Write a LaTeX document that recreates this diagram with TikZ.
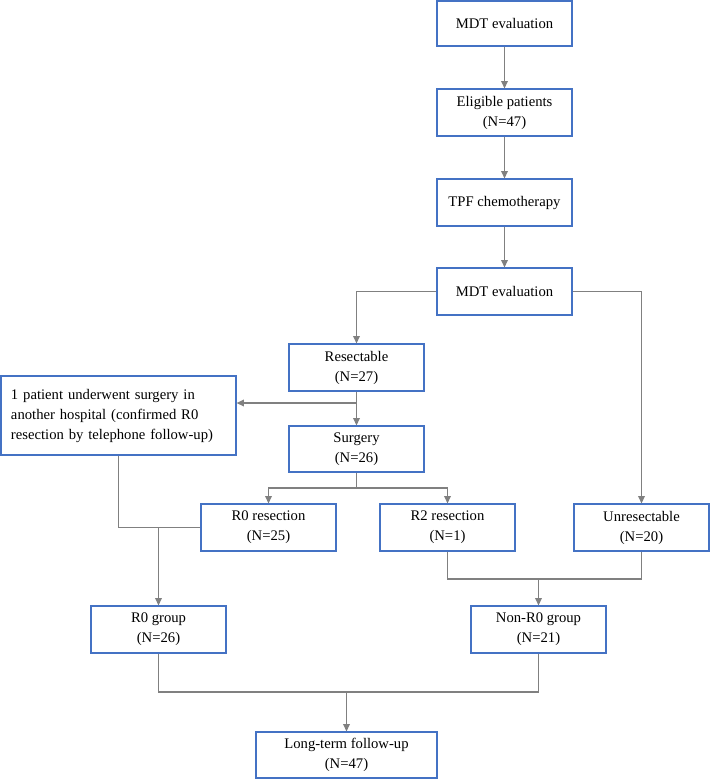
\documentclass[tikz,border=0pt]{standalone}
\usepackage{fontspec}
\setmainfont{Liberation Serif}
\usetikzlibrary{arrows.meta}
\definecolor{boxblue}{RGB}{68,114,196}
\definecolor{linegray}{RGB}{128,128,128}
\tikzset{
  box/.style={draw=boxblue, line width=0.9pt, fill=white, align=center,
    minimum width=101.25pt, minimum height=35.25pt, inner sep=2pt,
    font=\fontsize{11}{15}\selectfont},
  conn/.style={draw=linegray, line width=1.1pt},
  arr/.style={conn, -{Triangle[length=5.5pt,width=5pt]}}
}
\begin{document}
\begin{tikzpicture}[x=0.75pt,y=-0.75pt]
\useasboundingbox (0,0) rectangle (710,779);
% nodes
\node[box, minimum height=33.75pt] (mdt1) at (504.5,23.5) {MDT evaluation};
\node[box] (elig) at (504.5,112.5) {Eligible patients\\(N=47)};
\node[box] (tpf) at (504.5,202.5) {TPF chemotherapy};
\node[box] (mdt2) at (504.5,291.5) {MDT evaluation};
\node[box] (res) at (356.5,367.5) {Resectable\\(N=27)};
\node[box, minimum height=34.5pt] (surg) at (356.5,449) {Surgery\\(N=26)};
\node[box, align=left, text width=161.25pt, inner xsep=7.5pt, minimum height=59.25pt] (one) at (118.5,415.5)
  {1 patient underwent surgery in\\another hospital (confirmed R0\\resection by telephone follow-up)};
\node[box] (r0res) at (268.5,527.5) {R0 resection\\(N=25)};
\node[box] (r2) at (447.5,527.5) {R2 resection\\(N=1)};
\node[box] (unres) at (641.5,527.5) {Unresectable\\(N=20)};
\node[box] (r0g) at (158.5,629.5) {R0 group\\(N=26)};
\node[box] (nr0) at (538.5,629.5) {Non-R0 group\\(N=21)};
\node[box, minimum width=135.75pt, minimum height=34.5pt] (lt) at (346.5,755) {Long-term follow-up\\(N=47)};
% junctions
\coordinate (j1) at (356.5,403);
\coordinate (j2) at (356.5,488);
\coordinate (j3) at (538.5,579);
\coordinate (j4) at (346.5,692);
% connectors
\draw[arr] (mdt1.south) -- (elig.north);
\draw[arr] (elig.south) -- (tpf.north);
\draw[arr] (tpf.south) -- (mdt2.north);
\draw[arr] (mdt2.west) -| (res.north);
\draw[arr] (mdt2.east) -| (unres.north);
\draw[arr] (res.south) -- (surg.north);
\draw[arr] (j1) -- (one.east |- j1);
\draw[conn] (surg.south) -- (j2);
\draw[arr] (j2) -| (r0res.north);
\draw[arr] (j2) -| (r2.north);
\draw[conn] (one.south) |- (r0res.west);
\draw[arr] (r0g.north |- r0res.west) -- (r0g.north);
\draw[conn] (r2.south) |- (j3);
\draw[conn] (unres.south) |- (j3);
\draw[arr] (j3) -- (nr0.north);
\draw[conn] (r0g.south) |- (j4);
\draw[conn] (nr0.south) |- (j4);
\draw[arr] (j4) -- (lt.north);
\end{tikzpicture}
\end{document}
